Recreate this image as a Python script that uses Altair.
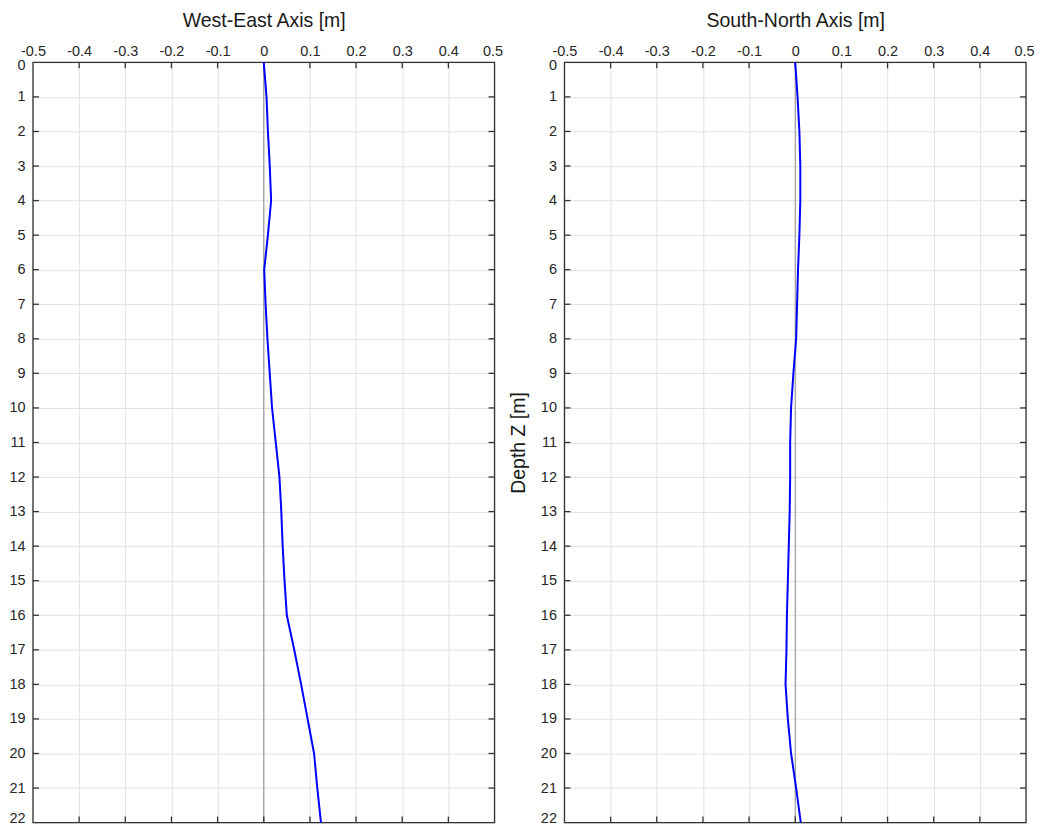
import altair as alt
import pandas as pd

# ---- data ----
depth = list(range(23))
west_east = [0.000, 0.006, 0.009, 0.013, 0.016, 0.009, 0.001, 0.004, 0.008, 0.013,
             0.018, 0.026, 0.034, 0.038, 0.041, 0.045, 0.050, 0.066, 0.081, 0.095,
             0.109, 0.116, 0.124]
south_north = [0.000, 0.005, 0.009, 0.011, 0.011, 0.009, 0.006, 0.004, 0.002, -0.004,
               -0.009, -0.011, -0.011, -0.012, -0.014, -0.016, -0.018, -0.019, -0.021, -0.016,
               -0.009, 0.002, 0.012]
x_ticks = [-0.5, -0.4, -0.3, -0.2, -0.1, 0.0, 0.1, 0.2, 0.3, 0.4, 0.5]
y_ticks = list(range(23))
titles = ["West-East Axis [m]", "South-North Axis [m]"]
depth_title = "Depth Z [m]"

W, H = 462, 761
FONT = "Liberation Sans"
TICK = 6
LABEL_FS = 14.5
TITLE_FS = 19.5


def panel(values, title, ytitle):
    df = pd.DataFrame({"depth": depth, "x": values})
    xs = alt.Scale(domain=[-0.5, 0.5], nice=False, zero=False)
    ys = alt.Scale(domain=[0, 22], reverse=True, nice=False, zero=False)

    yaxis_kw = dict(values=y_ticks, grid=True, gridColor="#e3e3e3", ticks=False,
                    domain=False, labelPadding=8, labelFontSize=LABEL_FS, labelColor="#262626",
                    labelFont=FONT, titleFont=FONT, titleFontSize=TITLE_FS,
                    titleFontWeight="normal", titleColor="#1a1a1a", titlePadding=12,
                    labelOffset={"condition": [{"test": "datum.value == 22", "value": -4},
                                               {"test": "datum.value == 0", "value": 3}],
                                 "value": 0})
    if ytitle:
        yaxis = alt.Axis(title=ytitle, **yaxis_kw)
    else:
        yaxis = alt.Axis(title=None, **yaxis_kw)

    xaxis = alt.Axis(orient="top", values=x_ticks, title=title, grid=True,
                     gridColor="#e3e3e3", ticks=False, domain=False,
                     labelFlush=False, labelPadding=4, labelFontSize=LABEL_FS,
                     labelColor="#262626", labelFont=FONT,
                     labelExpr="toString(round(datum.value*10)/10)",
                     labelOffset={"condition": {"test": "datum.value > 0.45", "value": -2},
                                  "value": 0},
                     titleFont=FONT, titleFontSize=TITLE_FS, titleFontWeight="normal",
                     titleColor="#1a1a1a", titlePadding=13)

    line = alt.Chart(df).mark_line(color="#0000ff", strokeWidth=2).encode(
        x=alt.X("x:Q", scale=xs, axis=xaxis),
        y=alt.Y("depth:Q", scale=ys, axis=yaxis),
        order=alt.Order("depth:Q"),
    )

    zero = alt.Chart(pd.DataFrame({"x": [0.0]})).mark_rule(color="#8f8f8f", strokeWidth=1).encode(
        x=alt.X("x:Q", scale=xs, axis=xaxis))

    xin = pd.DataFrame({"x": x_ticks[1:-1]})
    yin = pd.DataFrame({"depth": y_ticks[1:-1]})
    tick_style = dict(color="#333333", strokeWidth=1.3)
    top_t = alt.Chart(xin).mark_rule(**tick_style).encode(
        x=alt.X("x:Q", scale=xs, axis=xaxis), y=alt.value(0), y2=alt.value(TICK))
    bot_t = alt.Chart(xin).mark_rule(**tick_style).encode(
        x=alt.X("x:Q", scale=xs, axis=xaxis), y=alt.value(H - TICK), y2=alt.value(H))
    left_t = alt.Chart(yin).mark_rule(**tick_style).encode(
        y=alt.Y("depth:Q", scale=ys, axis=yaxis), x=alt.value(0), x2=alt.value(TICK))
    right_t = alt.Chart(yin).mark_rule(**tick_style).encode(
        y=alt.Y("depth:Q", scale=ys, axis=yaxis), x=alt.value(W - TICK), x2=alt.value(W))

    frame = alt.Chart(pd.DataFrame({"k": [0]})).mark_rect(
        fillOpacity=0, stroke="#333333", strokeWidth=1.3).encode(
        x=alt.value(0), x2=alt.value(W), y=alt.value(0), y2=alt.value(H))

    return alt.layer(zero, top_t, bot_t, left_t, right_t, frame, line).properties(width=W, height=H)


left = panel(west_east, titles[0], None)
right = panel(south_north, titles[1], depth_title)

chart = alt.hconcat(left, right, spacing=70, bounds="flush").properties(
    padding={"left": 0, "top": 2, "right": 0, "bottom": 0},
    background="white",
).configure_view(strokeWidth=0)

chart.save("out.html", embed_options={"renderer": "svg", "actions": False})
